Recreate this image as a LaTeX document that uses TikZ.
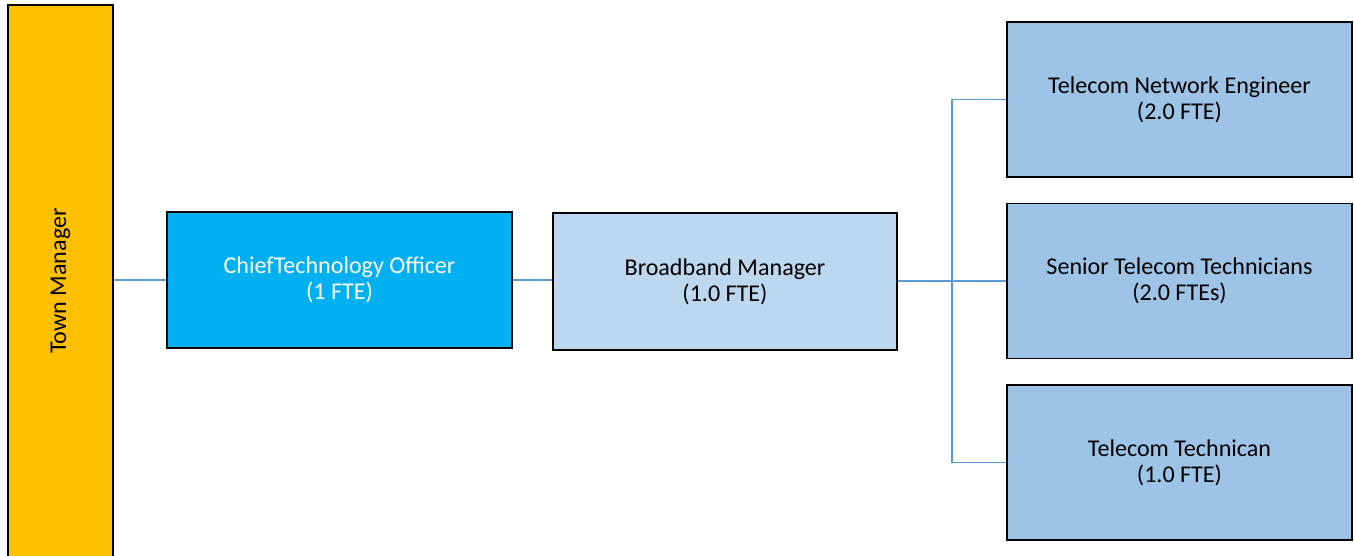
\documentclass[tikz,border=0pt]{standalone}
\usepackage{fontspec}
\setmainfont{Carlito}
\definecolor{tmgold}{HTML}{FFC000}
\definecolor{ctoblue}{HTML}{00B0F0}
\definecolor{bbblue}{HTML}{BDD7EE}
\definecolor{staffblue}{HTML}{9DC3E6}
\definecolor{linkblue}{HTML}{5B9BD5}
\tikzset{
  post/.style={draw=black,line width=1.1pt,align=center,inner sep=0pt,
    font=\fontsize{13.7}{14.8}\selectfont,minimum width=6.9cm},
  staff/.style={post,fill=staffblue,minimum height=3.1cm},
  link/.style={draw=linkblue,line width=1pt}
}
\begin{document}
\begin{tikzpicture}
  \useasboundingbox (0,0) rectangle (27.08,-11.12);
  \begin{scope}
    \clip (0,0) rectangle (27.08,-11.12);
    \node[post,fill=tmgold,minimum width=2.1cm,minimum height=11.2cm] (tm) at (1.21,-5.7) {};
  \end{scope}
  \node[rotate=90,font=\fontsize{13.7}{14.8}\selectfont] (tmlabel) at (1.21,-5.62) {Town Manager};
  \node[post,fill=ctoblue,text=white,minimum height=2.72cm] (cto) at (6.79,-5.6) {ChiefTechnology Officer\\(1 FTE)};
  \node[post,fill=bbblue,minimum width=6.88cm,minimum height=2.74cm] (bb) at (14.5,-5.63) {Broadband Manager\\(1.0 FTE)};
  \node[staff] (tne) at (23.59,-1.99) {Telecom Network Engineer\\(2.0 FTE)};
  \node[staff] (stt) at (23.59,-5.62) {Senior Telecom Technicians\\(2.0 FTEs)};
  \node[staff] (tt) at (23.59,-9.25) {Telecom Technican\\(1.0 FTE)};
  \coordinate (fork) at (19.04,-5.62);
  % connectors
  \draw[link] (tm.east |- cto.west) -- (cto.west);
  \draw[link] (cto.east) -- (bb.west |- cto.east);
  \draw[link] (bb.east |- stt.west) -- (stt.west);
  \draw[link] (tne.west) -| (fork) |- (tt.west);
\end{tikzpicture}
\end{document}
